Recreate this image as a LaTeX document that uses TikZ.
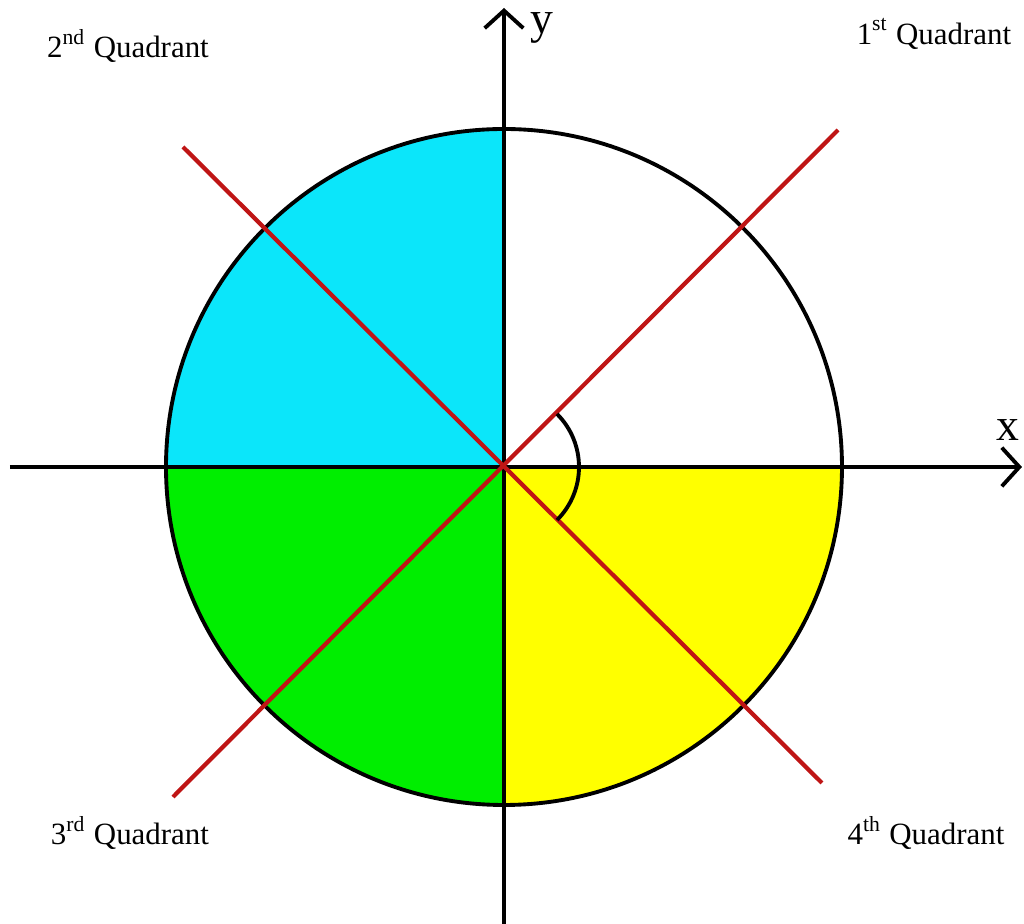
\documentclass[tikz,border=0pt]{standalone}
\usepackage{fontspec}
\setmainfont{Liberation Serif}
\definecolor{quadcyan}{HTML}{0BE6FA}
\definecolor{quadgreen}{HTML}{00EE00}
\definecolor{quadyellow}{HTML}{FFFF00}
\definecolor{diagred}{HTML}{BF1515}
\usetikzlibrary{arrows.meta,positioning,calc}

\begin{document}
\begin{tikzpicture}[
    ax/.style={-{Straight Barb[length=5pt,width=11pt,line width=1.1pt]},black,line width=1.1pt},
    rim/.style={black,line width=1.1pt},
    dg/.style={diagred,line width=1.2pt},
    ql/.style={font=\fontsize{8.8}{11}\selectfont,inner sep=0pt},
    al/.style={font=\fontsize{13}{15}\selectfont,inner sep=0pt},
  ]
    \useasboundingbox (-5.04,-4.57) rectangle (5.20,4.67);
    \coordinate (O) at (0,0);

    % filled quadrants
    \fill[quadcyan] (O) -- (0,3.38) arc[start angle=90,end angle=180,radius=3.38] -- cycle;
    \fill[quadgreen] (O) -- (-3.38,0) arc[start angle=180,end angle=270,radius=3.38] -- cycle;
    \fill[quadyellow] (O) -- (0,-3.38) arc[start angle=270,end angle=360,radius=3.38] -- cycle;
    \draw[rim] (O) circle[radius=3.38];

    % axes
    \coordinate (xl) at (-4.94,0);
    \coordinate (xr) at (5.18,0);
    \coordinate (yb) at (0,-4.57);
    \coordinate (yt) at (0,4.59);
    \draw[ax] (xl)--(xr);
    \draw[ax] (yb)--(yt);

    % diagonals
    \coordinate (d1) at (-3.21,3.20);
    \coordinate (d2) at (3.18,-3.16);
    \coordinate (d3) at (3.34,3.37);
    \coordinate (d4) at (-3.31,-3.30);
    \draw[dg] (d1)--(d2);
    \draw[dg] (d3)--(d4);

    % angle
    \draw[rim] ($(O)+(45:0.75)$) arc[start angle=45,end angle=-45,radius=0.75];

    \node[al] (ylab) at (0.38,4.39) {y};
    \node[al] (xlab) at (5.04,0.37) {x};

    \node[ql] (q2) at (-3.76,4.21) {2\textsuperscript{nd} Quadrant};
    \node[ql] (q1) at (4.30,4.33) {1\textsuperscript{st} Quadrant};
    \node[ql] (q3) at (-3.74,-3.66) {3\textsuperscript{rd} Quadrant};
    \node[ql] (q4) at (4.22,-3.66) {4\textsuperscript{th} Quadrant};
  \end{tikzpicture}
\end{document}
